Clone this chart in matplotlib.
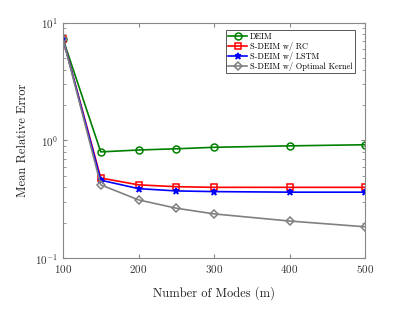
import numpy as np
import matplotlib
matplotlib.use("Agg")
import matplotlib.pyplot as plt

plt.rcParams["font.family"] = ["cmr10", "DejaVu Serif"]
plt.rcParams["mathtext.fontset"] = "cm"
plt.rcParams["axes.formatter.use_mathtext"] = True

modes = [100, 150, 200, 250, 300, 400, 500]
deim = [7.3, 0.80, 0.83, 0.85, 0.875, 0.90, 0.92]
sdeim_rc = [7.3, 0.48, 0.42, 0.405, 0.40, 0.40, 0.40]
sdeim_lstm = [7.3, 0.46, 0.39, 0.373, 0.368, 0.364, 0.364]
sdeim_opt = [7.3, 0.42, 0.313, 0.266, 0.238, 0.207, 0.185]

fig = plt.figure(figsize=(3.96, 3.22), dpi=100)
ax = fig.add_axes([0.159, 0.198, 0.763, 0.7315])

mk = dict(lw=1.2, ms=5, mew=1.1)
ax.plot(modes, deim, color="#008000", marker="o", mfc="none", label="DEIM", **mk)
ax.plot(modes, sdeim_rc, color="red", marker="s", mfc="none", label="S-DEIM w/ RC", **mk)
ax.plot(modes, sdeim_lstm, color="blue", marker="*", label="S-DEIM w/ LSTM", **mk)
ax.plot(modes, sdeim_opt, color="gray", marker="D", mfc="none", ms=4.5,
        lw=1.2, mew=1.1, label="S-DEIM w/ Optimal Kernel")

ax.set_yscale("log")
ax.set_ylim(0.1, 10)
ax.set_xlim(100, 500)
ax.set_xticks([100, 200, 300, 400, 500])
ax.set_xlabel("Number of Modes (m)", fontsize=9, color="#222222", labelpad=8)
ax.set_ylabel("Mean Relative Error", fontsize=9, color="#222222")

for s in ax.spines.values():
    s.set_color("#888888")
    s.set_linewidth(0.8)
ax.tick_params(which="both", direction="in", top=True, right=True, colors="#888888",
               labelcolor="#333333", labelsize=8)
ax.tick_params(which="major", length=3)
ax.tick_params(which="minor", length=2)
ax.minorticks_on()
ax.xaxis.set_minor_locator(matplotlib.ticker.NullLocator())

leg = ax.legend(loc="upper right", bbox_to_anchor=(0.967, 0.969), borderaxespad=0,
                fontsize=6, fancybox=False, framealpha=1, edgecolor="#555555",
                handlelength=2.2, handletextpad=0.4, borderpad=0.3,
                labelspacing=0.12)
leg.get_frame().set_linewidth(0.7)

fig.savefig("out.png", dpi=100, facecolor="white")
